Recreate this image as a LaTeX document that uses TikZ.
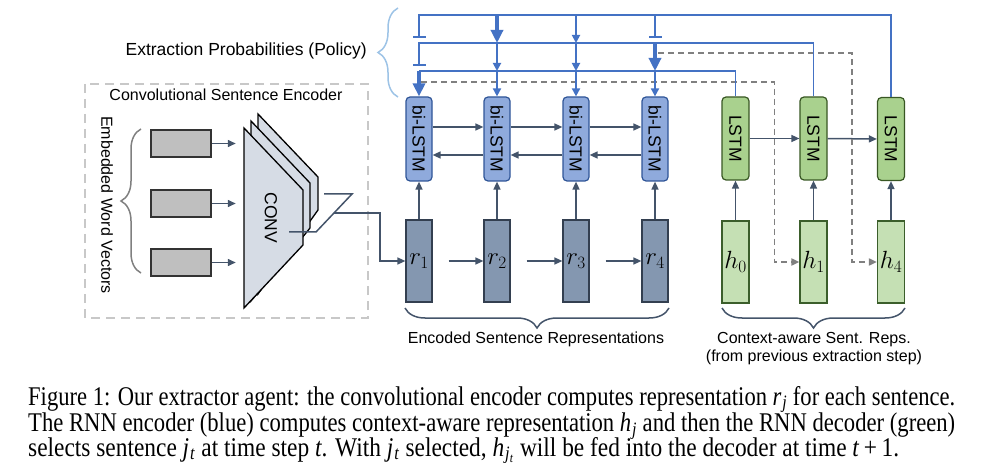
\documentclass[tikz,border=0pt]{standalone}
\usepackage{fontspec}
\setmainfont{Liberation Sans}
\newfontfamily\capfont[FakeStretch=0.866]{Liberation Serif}
\usetikzlibrary{arrows.meta,decorations.pathreplacing,calc}
\definecolor{encfill}{HTML}{8FAADC}
\definecolor{encdraw}{HTML}{2F5597}
\definecolor{decfill}{HTML}{A9D18E}
\definecolor{decdraw}{HTML}{385723}
\definecolor{rfill}{HTML}{8497B0}
\definecolor{rdraw}{HTML}{333F50}
\definecolor{hfill}{HTML}{C5E0B4}
\definecolor{hdraw}{HTML}{3B5E2B}
\definecolor{wfill}{HTML}{BFBFBF}
\definecolor{wdraw}{HTML}{333333}
\definecolor{convfill}{HTML}{D6DCE5}
\definecolor{slate}{HTML}{44546A}
\definecolor{pblue}{HTML}{4472C4}
\definecolor{lblue}{HTML}{9DC3E6}
\definecolor{dgray}{HTML}{808080}
\definecolor{boxgray}{HTML}{C8C8C8}
\newcommand{\itsub}[2]{\textit{#1}\kern0.5pt\textsubscript{\kern0.5pt\textit{#2}}}
\newcommand{\justline}[1]{\resizebox{927pt}{\height}{#1}}
\tikzset{
  lbl/.style={font=\fontsize{16}{19}\selectfont, inner sep=0pt},
  enc/.style={draw=encdraw, fill=encfill, line width=1.2pt, rounded corners=4pt,
    minimum width=26pt, minimum height=84pt, inner sep=0pt, font=\fontsize{17.5}{18}\selectfont},
  dec/.style={draw=decdraw, fill=decfill, line width=1.2pt, rounded corners=4pt,
    minimum width=27pt, minimum height=83pt, inner sep=0pt, font=\fontsize{17.5}{18}\selectfont},
  rbox/.style={draw=rdraw, fill=rfill, line width=1.2pt, minimum width=26pt,
    minimum height=82pt, inner sep=0pt, font=\fontsize{24}{24}\selectfont},
  hbox/.style={draw=hdraw, fill=hfill, line width=1.2pt, minimum width=27pt,
    minimum height=82pt, inner sep=0pt, font=\fontsize{24}{24}\selectfont},
  wbox/.style={draw=wdraw, fill=wfill, line width=1.5pt, minimum width=60pt,
    minimum height=27pt, inner sep=0pt},
  conn/.style={draw=slate, line width=1.5pt, -{Triangle[length=8pt,width=7pt]}},
  wire/.style={draw=slate, line width=1.5pt},
  pol/.style={draw=pblue, line width=1.8pt},
  polbar/.style={pol, -{Bar[width=13pt,line width=1.8pt]}},
  polthin/.style={pol, -{Triangle[length=8pt,width=8pt]}},
  polthick/.style={draw=pblue, line width=4pt, -{Triangle[length=13pt,width=12pt]}},
  gdash/.style={draw=dgray, line width=1.8pt, dash pattern=on 6pt off 4pt,
    -{Triangle[length=8pt,width=7pt]}},
  bracedeco/.style={decorate, decoration={brace, amplitude=20pt}, line width=1.5pt},
  capline/.style={anchor=base west, inner sep=0pt, font=\capfont\fontsize{27}{27}\selectfont},
}
\begin{document}
\begin{tikzpicture}[x=1pt,y=-1pt]
\useasboundingbox (0,0) rectangle (989,476);

% ---------- convolutional sentence encoder ----------
\draw[draw=boxgray, line width=2.2pt, dash pattern=on 9pt off 6pt] (85,84) rectangle (368,318);
\node[lbl, anchor=base] (cseTitle) at (226,101) {Convolutional Sentence Encoder};
\node[lbl] (ewv) at (107,205) {\rotatebox{-90}{Embedded Word Vectors}};
\draw[bracedeco, draw=dgray] (141,273) -- (141,129);

\node[wbox] (w1) at (181,143.5) {};
\node[wbox] (w2) at (181,203.5) {};
\node[wbox] (w3) at (181,262.5) {};
\foreach \i in {1,2,3}{
  \draw[conn] (w\i.east) -- ($(w\i.east)+(24,0)$);
}

\draw[fill=convfill, line width=1.3pt] (258,114) -- (318,177) -- (318,210) -- (258,294) -- cycle;
\draw[fill=convfill, line width=1.3pt] (251,121) -- (310,183) -- (310,228) -- (251,301) -- cycle;
\draw[fill=convfill, line width=1.3pt] (244,128) -- (303,190) -- (303,245) -- (244,308) -- cycle;
\node[font=\fontsize{17.5}{18}\selectfont, inner sep=0pt] (conv) at (271,218) {\rotatebox{-90}{CONV}};

\draw[wire] (324,194) -- (352,194) -- (316,232) -- (289,232);
\coordinate (pool) at (334,213);

% ---------- encoder (blue) ----------
\foreach \i/\x in {1/419,2/497,3/576,4/655}{
  \node[enc] (b\i) at (\x,139) {\rotatebox{-90}{bi-LSTM}};
  \node[rbox] (r\i) at (\x,261) {$r_{\i}$};
  \draw[conn] (r\i.north) -- (b\i.south);
}
\draw[conn] (pool) -- (380,213) |- (r1.west);
\foreach \i/\j in {1/2,2/3,3/4}{
  \draw[conn] ([yshift=12pt]b\i.east) -- ([yshift=12pt]b\j.west);
  \draw[conn] ([yshift=-16pt]b\j.west) -- ([yshift=-16pt]b\i.east);
  \draw[conn] ($(r\i.east)+(16,0)$) -- (r\j.west);
}

% ---------- decoder (green) ----------
\node[dec] (l1) at (735.5,138.5) {\rotatebox{-90}{LSTM}};
\node[dec] (l2) at (813.5,138.5) {\rotatebox{-90}{LSTM}};
\node[dec] (l3) at (891,139) {\rotatebox{-90}{LSTM}};
\node[hbox] (h0) at (735.5,262) {$h_0$};
\node[hbox] (h1) at (813.5,262) {$h_1$};
\node[hbox] (h4) at (891,262) {$h_4$};
\draw[conn] (h0.north) -- (l1.south);
\draw[conn] (h1.north) -- (l2.south);
\draw[conn] (h4.north) -- (l3.south);
\draw[conn] (l1.east) -- (l2.west);
\draw[conn] (l2.east) -- (l3.west);

% ---------- dashed feedback ----------
\coordinate (dA) at (421,82);
\coordinate (dB) at (658,53);
\draw[gdash] (dA) -| ($(h1.west)+(-25,0)$) -- (h1.west);
\draw[gdash] (dB) -| ($(h4.west)+(-25,0)$) -- (h4.west);

% ---------- policy lines ----------
\coordinate (c1) at (419,15);
\coordinate (c2) at (419,43);
\coordinate (c3) at (419,71);
\draw[polbar] (l3.north) |- (c1) -- (419,38);
\draw[polbar] (l2.north) |- (c2) -- (419,66);
\draw[pol] (l1.north) |- (c3);
% drops from line 1
\draw[polthick] (497,15) -- (497,43);
\draw[polthin] (576,15) -- (576,43);
\draw[polbar] (655,15) -- (655,38);
% drops from line 2
\draw[polthin] (497,43) -- (497,71);
\draw[polthin] (576,43) -- (576,71);
\draw[polthick] (655,43) -- (655,71);
% drops from line 3
\draw[polthick] (c3) -- (b1.north);
\draw[polthin] (497,71) -- (b2.north);
\draw[polthin] (576,71) -- (b3.north);
\draw[polthin] (655,71) -- (b4.north);

\draw[bracedeco, draw=lblue] (398,97) -- (398,8);
\node[lbl, font=\fontsize{17.5}{20}\selectfont, anchor=base east] (policy) at (367,56) {Extraction Probabilities (Policy)};

% ---------- bottom braces and labels ----------
\draw[bracedeco, draw=slate] (669,308) -- (405,308);
\node[lbl, anchor=base] (esr) at (536,343) {Encoded Sentence Representations};
\draw[bracedeco, draw=slate] (905,308) -- (722,308);
\node[lbl, anchor=base] (casr) at (814,343) {Context-aware Sent. Reps.};
\node[lbl, anchor=base] (casr2) at (814,361) {(from previous extraction step)};

% ---------- caption ----------
\node[capline] (cap1) at (28,405) {\justline{Figure 1: Our extractor agent: the convolutional encoder computes representation \itsub{r}{j} for each sentence.}};
\node[capline] (cap2) at (28,431.5) {\justline{The RNN encoder (blue) computes context-aware representation \itsub{h}{j} and then the RNN decoder (green)}};
\node[capline] (cap3) at (28,456) {selects sentence \itsub{j}{t} at time step \textit{t}. With \itsub{j}{t} selected, \textit{h}\kern0.5pt\textsubscript{\kern0.5pt\textit{j}\textsubscript{\textit{t}}} will be fed into the decoder at time \textit{t}\,+\,1.};
\end{tikzpicture}
\end{document}
